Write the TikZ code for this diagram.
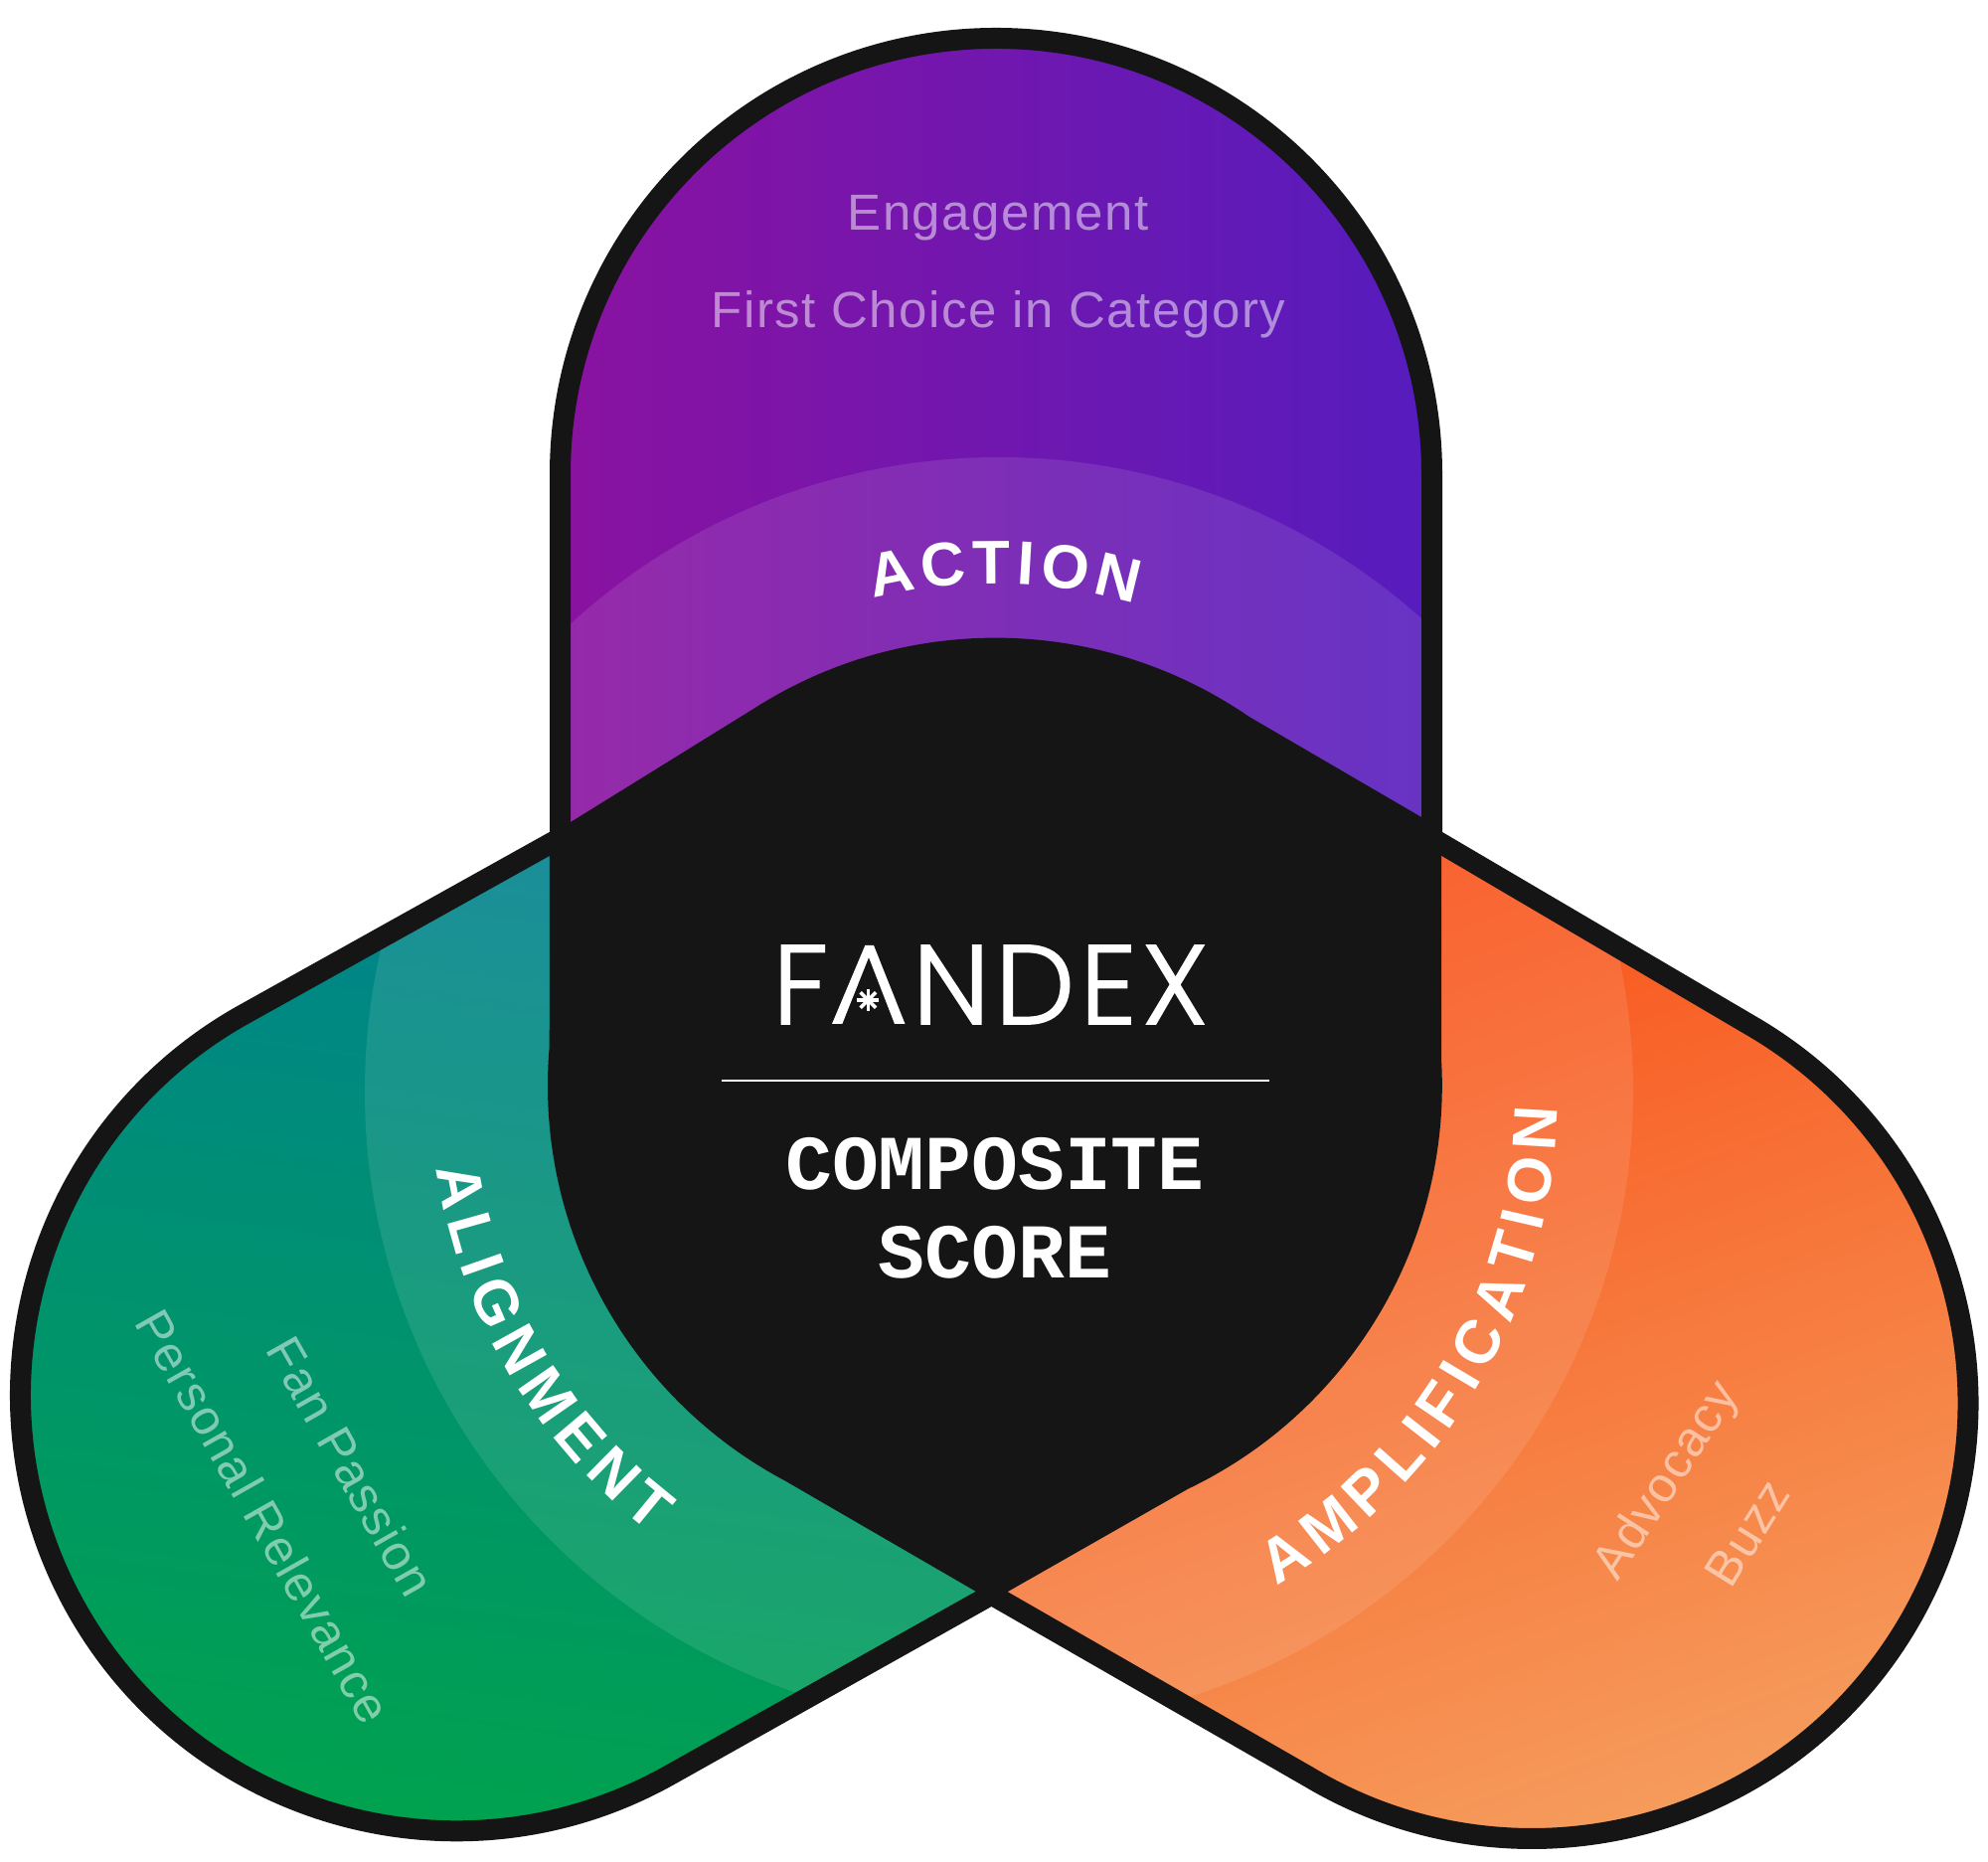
\documentclass[tikz,border=0pt]{standalone}
\usepackage{fontspec}
\usetikzlibrary{decorations.text}
\setmainfont{Liberation Sans}
\newfontfamily\labfont[LetterSpace=3]{Liberation Sans}
\newfontfamily\bandfont{Liberation Sans Bold}
\newfontfamily\monofont{Liberation Mono Bold}
\newfontfamily\logofont[LetterSpace=5,FakeBold=1.5]{Poppins Light}
\definecolor{ink}{HTML}{151515}
\definecolor{purpL}{HTML}{8A12A0}
\definecolor{purpR}{HTML}{561CBE}
\definecolor{tealT}{HTML}{00828F}
\definecolor{tealM}{HTML}{009A66}
\definecolor{greenB}{HTML}{00A44A}
\definecolor{orT}{HTML}{F95018}
\definecolor{orM}{HTML}{F57036}
\definecolor{orB}{HTML}{F5A060}
\tikzset{
  outlinepath/.style={draw=ink,line width=10.5pt,line join=miter,miter limit=10},
  sublabel/.style={text=white,text opacity=0.5,inner sep=0pt,font=\labfont\fontsize{25.5}{28}\selectfont},
  sublabelB/.style={text=white,text opacity=0.5,inner sep=0pt,font=\labfont\fontsize{24.8}{28}\selectfont},
  monolabel/.style={text=white,inner sep=0pt,anchor=base,font=\monofont\fontsize{39}{44}\selectfont},
  bandtext/.style={decorate,decoration={text along path,text align=fit to path,text={|\color{white}\bandfont\fontsize{31}{36}\selectfont|#1}}}
}
\begin{document}
\begin{tikzpicture}[x=0.5pt,y=0.5pt]
\useasboundingbox (0,0) rectangle (2000,1872);
\fill[white] (0,0) rectangle (2000,1872);
% lobes
\shade[left color=purpL,right color=purpR,shading angle=90]
  (563.5,900) -- (563.5,1395) arc (180:0:438.5) -- (1440.5,900) -- cycle;
\shade[top color=tealT,middle color=tealM,bottom color=greenB,shading angle=-8]
  (563.5,1029) -- (242.4,850.5) arc (119.6:299.6:438.5) -- (997.5,268) -- (1001,800) -- cycle;
\shade[top color=orT,middle color=orM,bottom color=orB,shading angle=20]
  (1440.5,1029) -- (1766,837.7) arc (59.2:-120.8:438.5) -- (997.5,268) -- (1001,800) -- cycle;
% light band
\begin{scope}
\clip (563.5,1029) -- (563.5,1395) arc (180:0:438.5) -- (1440.5,1029) -- (1766,837.7) arc (59.2:-120.8:438.5) -- (997.5,268) -- (675.6,87.5) arc (-60.4:-240.4:438.5) -- cycle;
\fill[white,opacity=0.1] (1005,774) circle (638);
\end{scope}
% black centre
\fill[ink] (758.1,1159) arc (122.7:55.5:450.3) -- (1430,1050) -- (1450,1032) -- (1450,807)
  arc (3.4:-64.4:450.3) -- (1014,271) -- (998,258) -- (982,271) -- (789.9,382.4)
  arc (242:175:450.3) -- (553,1034) -- (574,1045) -- cycle;
% outline
\path[outlinepath] (563.5,1029) -- (563.5,1395) arc (180:0:438.5) -- (1440.5,1029) -- (1766,837.7) arc (59.2:-120.8:438.5) -- (997.5,268) -- (675.6,87.5) arc (-60.4:-240.4:438.5) -- cycle;
% centre text
\node[text=white,inner sep=0pt,anchor=base west,font=\logofont\fontsize{56.5}{60}\selectfont] (logo) at (777,842) {FANDEX};
% the A of the logo: no crossbar, with an asterisk inside
\fill[ink] (837.5,838) -- (837.5,925) -- (912,925) -- (912,838) -- cycle;
\fill[white] (837,842) -- (847.3,842) -- (874,909) -- (900,842) -- (910.5,842) -- (879,921) -- (870.3,921) -- cycle;
\foreach \a in {0,45,90,135} \draw[white,line width=1.8pt] (873.4,866)+(\a:11) -- +(\a+180:11);
\coordinate (divL) at (726,785);
\coordinate (divR) at (1277,785);
\draw[white,line width=0.7pt] (divL) -- (divR);
\node[monolabel] (comp) at (1001,675) {COMPOSITE};
\node[monolabel] (score) at (1001,586) {SCORE};
% band labels
\path[bandtext=ACTION] (1001,780)++(104:505) arc (104:73.8:505);
\path[bandtext=ALIGNMENT] (1001,780)++(188.4:568) arc (188.4:232.5:568);
\path[bandtext=AMPLIFICATION] (997,769)++(-59.7:570) arc (-59.7:-1.15:570);
% sub labels
\node[sublabel,anchor=base] (eng) at (1004,1640) {Engagement};
\node[sublabel,anchor=base] (first) at (1004.5,1542) {First Choice in Category};
\node[sublabelB,rotate=-60.5] (fan) at (353,397) {Fan Passion};
\node[sublabelB,rotate=-60.5] (pers) at (265.5,347) {Personal Relevance};
\node[sublabelB,rotate=57] (adv) at (1678,382) {Advocacy};
\node[sublabelB,rotate=58] (buzz) at (1758,330) {Buzz};
\end{tikzpicture}
\end{document}
